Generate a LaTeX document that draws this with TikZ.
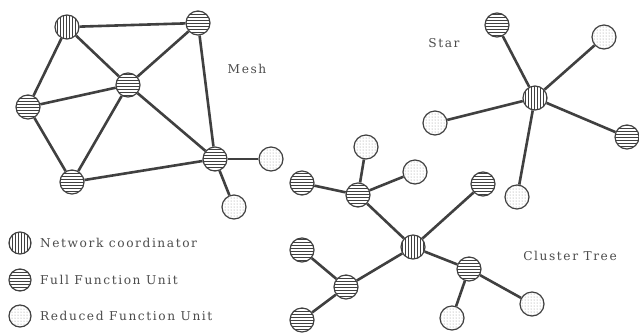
\documentclass[tikz,border=0pt]{standalone}
\usepackage{fontspec}
\setmainfont{DejaVu Serif}
\newfontfamily\labelfont[LetterSpace=13]{DejaVu Serif}
\usetikzlibrary{positioning,patterns}

\begin{document}
\begin{tikzpicture}[
    x=1pt, y=-1pt,
    every node/.style={font=\labelfont\fontsize{12.2}{14}\selectfont, text=black!70},
    unit/.style={circle, draw=black!75, line width=1.2pt, minimum size=24pt, inner sep=0pt},
    nc/.style={unit, pattern=vertical lines, pattern color=black!75},
    ffu/.style={unit, pattern=horizontal lines, pattern color=black!75},
    rfu/.style={unit, pattern=dots, pattern color=black!45},
    link/.style={line width=2.6pt, draw=black!75}
  ]
    \useasboundingbox (0,0) rectangle (639,333);

    % Mesh nodes
    \node[nc]  (m1) at (67,27) {};
    \node[ffu] (m2) at (198,23) {};
    \node[ffu] (m3) at (128,85) {};
    \node[ffu] (m4) at (28,107) {};
    \node[ffu] (m5) at (72,182) {};
    \node[ffu] (m6) at (215,159) {};
    \node[rfu] (m7) at (271,159) {};
    \node[rfu] (m8) at (234,207) {};
    \node (mesh) at (247,69) {Mesh};

    % Mesh links
    \draw[link] (m1) -- (m2);
    \draw[link] (m1) -- (m3);
    \draw[link] (m1) -- (m4);
    \draw[link] (m2) -- (m3);
    \draw[link] (m2) -- (m6);
    \draw[link] (m3) -- (m4);
    \draw[link] (m3) -- (m5);
    \draw[link] (m3) -- (m6);
    \draw[link] (m4) -- (m5);
    \draw[link] (m5) -- (m6);
    \draw[link] (m6) -- (m7);
    \draw[link] (m6) -- (m8);

    % Star nodes
    \node[nc]  (s0) at (535,98) {};
    \node[ffu] (s1) at (497,25) {};
    \node[rfu] (s2) at (604,37) {};
    \node[rfu] (s3) at (435,123) {};
    \node[ffu] (s4) at (627,137) {};
    \node[rfu] (s5) at (517,197) {};
    \node (star) at (444,43) {Star};

    % Star links
    \draw[link] (s0) -- (s1);
    \draw[link] (s0) -- (s2);
    \draw[link] (s0) -- (s3);
    \draw[link] (s0) -- (s4);
    \draw[link] (s0) -- (s5);

    % Cluster tree nodes
    \node[nc]  (c0) at (413,247) {};
    \node[ffu] (c1) at (358,195) {};
    \node[ffu] (c2) at (302,183) {};
    \node[rfu] (c3) at (366,147) {};
    \node[rfu] (c4) at (415,172) {};
    \node[ffu] (c5) at (483,184) {};
    \node[ffu] (c6) at (346,287) {};
    \node[ffu] (c7) at (302,250) {};
    \node[ffu] (c8) at (302,320) {};
    \node[ffu] (c9) at (469,269) {};
    \node[rfu] (c10) at (452,318) {};
    \node[rfu] (c11) at (532,304) {};
    \node (tree) at (570,256) {Cluster Tree};

    % Cluster tree links
    \draw[link] (c0) -- (c1);
    \draw[link] (c1) -- (c2);
    \draw[link] (c1) -- (c3);
    \draw[link] (c1) -- (c4);
    \draw[link] (c0) -- (c5);
    \draw[link] (c0) -- (c6);
    \draw[link] (c6) -- (c7);
    \draw[link] (c6) -- (c8);
    \draw[link] (c0) -- (c9);
    \draw[link] (c9) -- (c10);
    \draw[link] (c9) -- (c11);

    % Legend
    \node[nc, minimum size=22pt]  (lnc)  at (20,243) {};
    \node[ffu, minimum size=22pt] (lffu) at (20,280) {};
    \node[rfu, minimum size=22pt] (lrfu) at (20,316) {};
    \node[right=5pt of lnc]  (tnc)  {Network coordinator};
    \node[right=5pt of lffu] (tffu) {Full Function Unit};
    \node[right=5pt of lrfu] (trfu) {Reduced Function Unit};

  \end{tikzpicture}
\end{document}
